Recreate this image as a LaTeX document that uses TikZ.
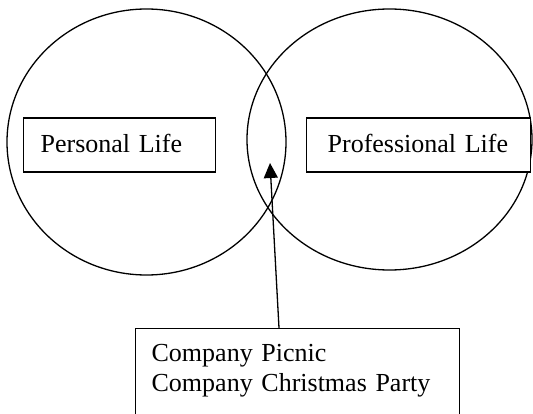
\documentclass[tikz,border=0pt]{standalone}
\usepackage{fontspec}
\setmainfont{Liberation Serif}
\usetikzlibrary{arrows.meta,shapes.geometric}

\begin{document}
\begin{tikzpicture}[x=1pt,y=-1pt,line width=1.3pt,
                    font=\fontsize{26}{30}\selectfont]
  \tikzstyle{set}=[ellipse,draw,inner sep=0pt]
  \tikzstyle{label box}=[draw,fill=white,align=left,inner ysep=0pt,
                         minimum height=54pt,text depth=4pt,anchor=west]

  \useasboundingbox (0,0) rectangle (533,414);
  \clip (0,0) rectangle (533,414);

  \node[set,minimum width=279pt,minimum height=266pt] (personal set)     at (146.5,142)   {};
  \node[set,minimum width=285pt,minimum height=261pt] (professional set) at (389.5,139.5) {};

  \node[label box,inner xsep=17pt,text width=158pt] (personal)     at (23,145)  {Personal Life};
  \node[label box,inner xsep=21pt,text width=182pt] (professional) at (306,145) {Professional Life};

  \node[draw,anchor=north west,align=left,inner sep=16pt,text width=292pt,
        text depth=80pt] (events) at (135,328) {Company Picnic\\Company Christmas Party};

  \coordinate (overlap) at (270,163);
  \draw[-{Triangle[length=15pt,width=14pt]}] ([xshift=144pt]events.north west) -- (overlap);
\end{tikzpicture}
\end{document}
